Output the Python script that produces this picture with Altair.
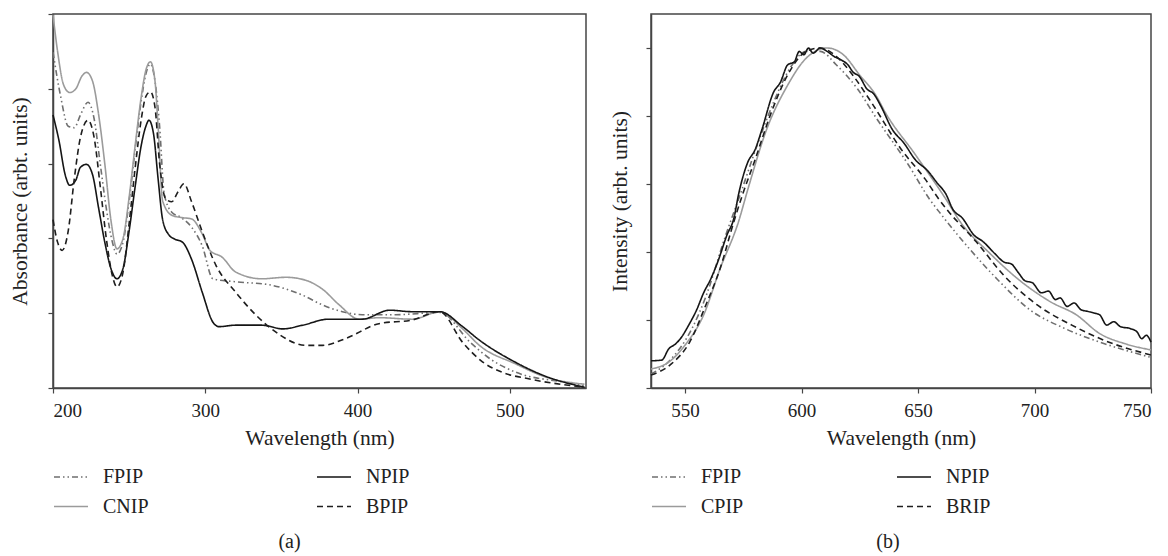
import altair as alt
import pandas as pd

FONT = "Liberation Serif"
INK = "#222222"
FRAME = "#454545"

# ---------------- Panel (a): absorbance ----------------
a_names = ["FPIP", "CNIP", "NPIP", "BPIP"]
a_colors = ["#6f6f6f", "#9b9b9b", "#151515", "#1e1e1e"]

a_fpip_x = [200, 205, 210, 214, 218, 223, 227, 231, 235, 239, 242, 246, 250, 254, 258, 261, 264, 267, 270, 273, 278, 284, 291, 298, 305, 320, 342, 364, 377, 390, 403, 425, 454, 474, 487, 504, 535, 549]
a_fpip_y = [4.49, 3.9, 3.5, 3.48, 3.65, 3.82, 3.6, 3.0, 2.4, 1.95, 1.79, 1.95, 2.5, 3.2, 3.85, 4.2, 4.33, 4.1, 3.5, 2.6, 2.35, 2.28, 2.15, 1.9, 1.46, 1.42, 1.38, 1.24, 1.11, 1.02, 0.98, 0.98, 1.01, 0.61, 0.39, 0.21, 0.08, 0.03]

a_cnip_x = [200, 203, 207, 211, 215, 219, 222, 226, 230, 234, 238, 242, 246, 250, 254, 258, 261, 264, 267, 269, 272, 278, 284, 291, 298, 303, 311, 320, 337, 353, 366, 377, 388, 401, 414, 436, 454, 469, 480, 504, 523, 549]
a_cnip_y = [4.99, 4.5, 4.05, 3.95, 4.0, 4.17, 4.22, 4.1, 3.65, 3.0, 2.25, 1.86, 2.0, 2.55, 3.25, 3.9, 4.25, 4.36, 4.1, 3.5, 2.5, 2.31, 2.28, 2.26, 2.06, 1.84, 1.75, 1.55, 1.46, 1.48, 1.44, 1.32, 1.11, 0.92, 0.94, 0.92, 1.02, 0.79, 0.57, 0.32, 0.15, 0.05]

a_npip_x = [200, 204, 208, 211, 215, 218, 222, 226, 230, 234, 238, 242, 246, 250, 254, 258, 261, 263, 266, 269, 272, 276, 280, 285, 291, 298, 305, 309, 320, 337, 351, 364, 381, 403, 421, 436, 454, 469, 480, 504, 523, 549]
a_npip_y = [3.65, 3.3, 2.85, 2.71, 2.78, 2.95, 2.99, 2.85, 2.4, 1.95, 1.6, 1.46, 1.6, 2.1, 2.7, 3.25, 3.5, 3.58, 3.4, 2.8, 2.25, 2.05, 1.99, 1.95, 1.72, 1.28, 0.88, 0.82, 0.84, 0.84, 0.79, 0.84, 0.92, 0.92, 1.04, 1.02, 1.02, 0.82, 0.64, 0.34, 0.16, 0.01]

a_bpip_x = [200, 203, 206, 210, 214, 218, 223, 227, 231, 235, 239, 242, 246, 250, 254, 258, 261, 264, 267, 270, 274, 278, 282, 286, 291, 298, 307, 320, 333, 349, 359, 366, 377, 392, 414, 436, 454, 469, 482, 495, 513, 549]
a_bpip_y = [2.25, 1.95, 1.84, 2.1, 2.8, 3.35, 3.58, 3.35, 2.7, 2.0, 1.5, 1.35, 1.55, 2.2, 2.95, 3.6, 3.9, 3.96, 3.75, 3.0, 2.53, 2.49, 2.62, 2.73, 2.49, 2.09, 1.64, 1.28, 0.98, 0.71, 0.6, 0.57, 0.57, 0.66, 0.86, 0.91, 1.02, 0.61, 0.35, 0.21, 0.12, 0.01]

# ---------------- Panel (b): emission ----------------
b_names = ["FPIP", "CPIP", "NPIP", "BRIP"]
b_colors = ["#6f6f6f", "#9b9b9b", "#151515", "#1e1e1e"]

b_fpip_x = [535.4, 544, 553, 559, 567, 574, 581, 588, 595, 602, 608, 615, 624, 632, 646, 655, 660, 672, 684, 698, 713, 728, 750]
b_fpip_y = [0.041, 0.085, 0.175, 0.27, 0.44, 0.575, 0.715, 0.84, 0.94, 0.99, 0.99, 0.95, 0.88, 0.795, 0.655, 0.555, 0.51, 0.41, 0.32, 0.23, 0.175, 0.135, 0.09]

b_npip_x = [535.4, 540, 543, 546, 548, 552, 555, 558, 561, 564, 568, 571, 573, 577, 580, 583, 588, 591, 594, 597, 599, 601, 603, 605, 608, 611, 614, 617, 620, 622, 625, 628, 631, 634, 639, 644, 649, 654, 658, 662, 665, 669, 674, 678, 683, 687, 690, 693, 696, 699, 703, 706, 709, 711, 714, 717, 720, 723, 726, 728, 731, 734, 737, 741, 744, 746, 748, 750]
b_npip_y = [0.08, 0.082, 0.115, 0.13, 0.145, 0.19, 0.23, 0.28, 0.32, 0.37, 0.45, 0.5, 0.57, 0.665, 0.7, 0.76, 0.87, 0.9, 0.95, 0.96, 0.99, 0.98, 1.0, 0.985, 1.0, 0.99, 0.975, 0.965, 0.95, 0.93, 0.915, 0.88, 0.865, 0.83, 0.76, 0.72, 0.67, 0.64, 0.605, 0.57, 0.525, 0.5, 0.45, 0.43, 0.395, 0.37, 0.365, 0.34, 0.315, 0.31, 0.28, 0.285, 0.26, 0.265, 0.24, 0.25, 0.23, 0.225, 0.22, 0.215, 0.185, 0.195, 0.18, 0.175, 0.165, 0.145, 0.155, 0.135]

b_cpip_x = [535.4, 543, 550, 558, 565, 573, 577, 585, 594, 602, 611, 618, 625, 632, 636, 649, 662, 668, 681, 693, 707, 718, 728, 739, 750]
b_cpip_y = [0.056, 0.076, 0.126, 0.215, 0.35, 0.49, 0.585, 0.76, 0.89, 0.97, 1.0, 0.98, 0.92, 0.86, 0.81, 0.685, 0.555, 0.49, 0.395, 0.32, 0.253, 0.215, 0.16, 0.13, 0.112]

b_brip_x = [535.4, 544, 552, 559, 565, 571, 575, 580, 587, 594, 602, 608, 615, 622, 630, 643, 653, 659, 663, 675, 687, 701, 716, 730, 750]
b_brip_y = [0.038, 0.07, 0.135, 0.245, 0.35, 0.49, 0.575, 0.67, 0.81, 0.92, 0.99, 1.0, 0.975, 0.92, 0.84, 0.70, 0.615, 0.555, 0.52, 0.43, 0.33, 0.245, 0.185, 0.14, 0.097]

# dash patterns in legend order: dash-dot-dot, solid, solid, dashed
DASHES = [[6, 3, 1.5, 3, 1.5, 3], [1, 0], [1, 0], [6, 4]]


def long_table(names, xs, ys):
    rows = []
    for n, xv, yv in zip(names, xs, ys):
        for xi, yi in zip(xv, yv):
            rows.append({"series": n, "wl": xi, "val": yi})
    return pd.DataFrame(rows)


def panel(df, names, colors, width, xdomain, xticks, ydomain, yticks, ytitle,
          col_pad, caption, cap_dx, ytitle_pad):
    leg = alt.Legend(orient="none", legendX=0, legendY=445, columns=2,
                     columnPadding=col_pad, rowPadding=1.5,
                     symbolType="stroke", symbolSize=1156, symbolStrokeWidth=1.6,
                     labelFont=FONT, labelFontSize=20, labelColor=INK,
                     labelOffset=14, labelLimit=0)
    return alt.Chart(df).mark_line(strokeWidth=1.6, interpolate="monotone").encode(
        x=alt.X("wl:Q", scale=alt.Scale(domain=xdomain, nice=False, zero=False),
                axis=alt.Axis(values=xticks, title="Wavelength (nm)", labelPadding=8,
                              titlePadding=7, format="d")),
        y=alt.Y("val:Q", scale=alt.Scale(domain=ydomain, nice=False, zero=False),
                axis=alt.Axis(values=yticks, labels=False, title=ytitle,
                              titlePadding=ytitle_pad)),
        color=alt.Color("series:N", sort=names,
                        scale=alt.Scale(domain=names, range=colors),
                        legend=leg, title=None),
        strokeDash=alt.StrokeDash("series:N", sort=names,
                                  scale=alt.Scale(domain=names, range=DASHES),
                                  legend=leg, title=None),
    ).properties(
        width=width, height=374,
        title=alt.TitleParams(caption, orient="bottom", anchor="middle", font=FONT,
                              fontSize=20, fontWeight="normal", color=INK,
                              dx=cap_dx, offset=15),
    )


df_a = long_table(a_names, [a_fpip_x, a_cnip_x, a_npip_x, a_bpip_x],
                  [a_fpip_y, a_cnip_y, a_npip_y, a_bpip_y])
df_b = long_table(b_names, [b_fpip_x, b_cpip_x, b_npip_x, b_brip_x],
                  [b_fpip_y, b_cpip_y, b_npip_y, b_brip_y])

left = panel(df_a, a_names, a_colors, 533, [200, 550], [200, 300, 400, 500],
             [0, 5], [0, 1, 2, 3, 4, 5], "Absorbance (arbt. units)", 164, "(a)", -30, 16)
right = panel(df_b, b_names, b_colors, 500, [535.4, 750], [550, 600, 650, 700, 750],
              [0, 1.1], [0, 0.2, 0.4, 0.6, 0.8, 1.0], "Intensity (arbt. units)", 149, "(b)", -13, 14)

chart = alt.hconcat(left, right, spacing=19).resolve_scale(
    color="independent", strokeDash="independent"
).resolve_legend(
    color="independent", strokeDash="independent"
).properties(
    padding={"left": 0, "top": 2, "right": 0, "bottom": 0}
).configure_view(
    stroke=FRAME, strokeWidth=1.5
).configure_axis(
    domainColor=FRAME, domainWidth=1.5, tickColor=FRAME, tickWidth=1.2, tickSize=5,
    grid=False, labelFont=FONT, labelFontSize=19, labelColor=INK,
    titleFont=FONT, titleFontSize=21.5, titleFontWeight="normal", titleColor=INK
)

chart.save("out.html", embed_options={"renderer": "svg", "actions": False})
